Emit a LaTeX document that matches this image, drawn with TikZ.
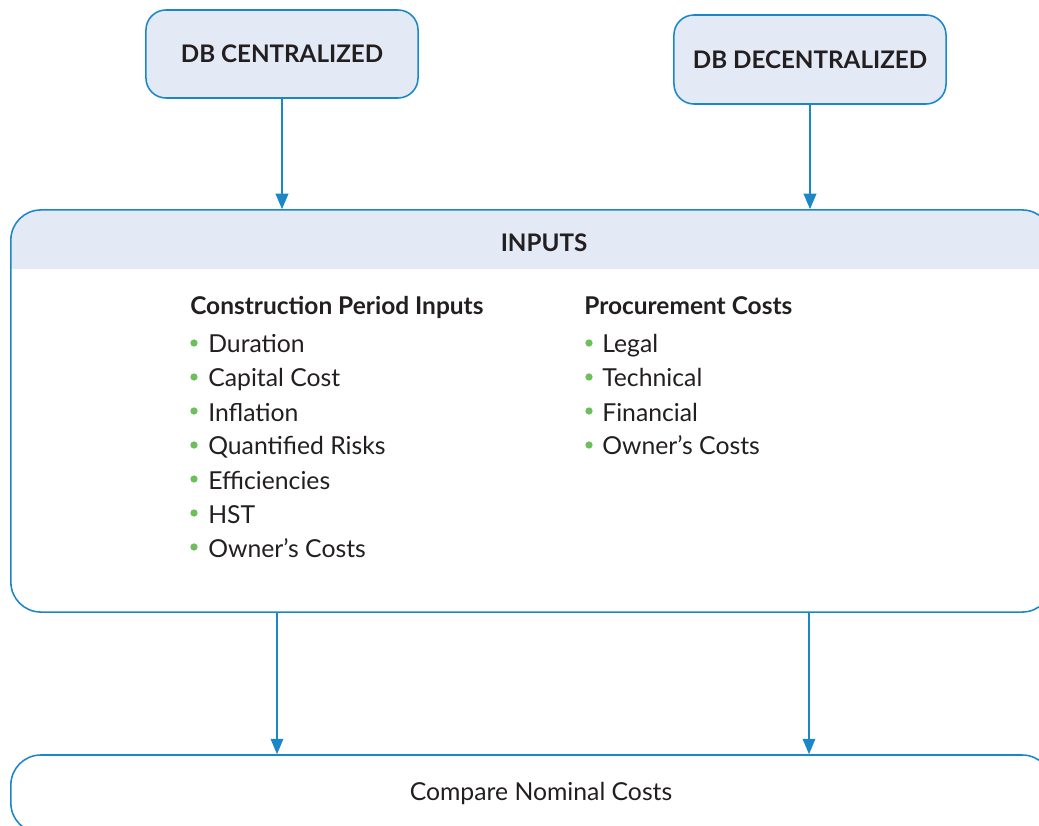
\documentclass[tikz,border=0pt]{standalone}
\usepackage{fontspec}
\setmainfont{Lato}
\usetikzlibrary{arrows.meta,positioning}

\definecolor{flowblue}{HTML}{1B87C9}
\definecolor{boxfill}{HTML}{E3EAF6}
\definecolor{dotgreen}{HTML}{6CBF5B}
\definecolor{textdark}{HTML}{231F20}

\tikzset{
  flowbox/.style={draw=flowblue, line width=1.1pt, fill=boxfill, rounded corners=0.5cm,
    text=textdark, font=\fontsize{17.2}{20}\selectfont\bfseries,
    minimum width=6.8cm, minimum height=2.2cm},
  panel/.style={draw=flowblue, line width=1.1pt, fill=white, rounded corners=0.75cm,
    minimum width=26.025cm, inner sep=0pt},
  flowarrow/.style={draw=flowblue, line width=1.1pt, -{Triangle[length=11pt,width=9pt]}},
  heading/.style={anchor=base west, text=textdark, font=\fontsize{17.4}{20}\selectfont\bfseries, inner sep=0pt},
  entry/.style={anchor=base west, text=textdark, font=\fontsize{17.6}{20}\selectfont, inner sep=0pt},
  bulletdot/.style={fill=dotgreen}
}

\begin{document}
\begin{tikzpicture}[x=0.025cm, y=-0.025cm]

    % --- Frame (pixel grid of the page) ---
    \useasboundingbox (0,0) rectangle (1039,826);
    \clip (0,0) rectangle (1039,826);

    % --- Top boxes ---
    \node[flowbox] (cent) at (282,54) {DB CENTRALIZED};
    \node[flowbox, minimum height=2.225cm] (decent) at (810,59.5) {DB DECENTRALIZED};

    % --- Inputs panel with shaded header band ---
    \node[panel, minimum height=10.05cm,
      path picture={\fill[boxfill, sharp corners] (path picture bounding box.north west)
        rectangle ([yshift=-1.475cm]path picture bounding box.north east);}]
      (inputs) at (531.5,411) {};
    \node[text=textdark, font=\fontsize{17.2}{20}\selectfont\bfseries] (inputstitle) at (544,243) {INPUTS};

    % --- Bottom panel ---
    \node[panel, minimum height=1.95cm] (compare) at (531.5,794) {};
    \node[text=textdark, font=\fontsize{17.6}{20}\selectfont] (comparetext) at (541,794) {Compare Nominal Costs};

    % --- Arrows into the inputs panel ---
    \draw[flowarrow] (cent) -- (cent |- inputs.north);
    \draw[flowarrow] (decent) -- (decent |- inputs.north);

    % --- Arrows into the bottom panel ---
    \coordinate (lowL) at (277,0);
    \coordinate (lowR) at (809,0);
    \draw[flowarrow] (lowL |- inputs.south) -- (lowL |- compare.north);
    \draw[flowarrow] (lowR |- inputs.south) -- (lowR |- compare.north);

    % --- Left column: construction period ---
    \node[heading] (conhead) at (190,315) {Construction Period Inputs};
    \node[entry] (con1) at (208,353) {Duration};
    \node[entry] (con2) at (208,387) {Capital Cost};
    \node[entry] (con3) at (208,421) {Inflation};
    \node[entry] (con4) at (208,455) {Quantified Risks};
    \node[entry] (con5) at (208,489) {Efficiencies};
    \node[entry] (con6) at (208,523) {HST};
    \node[entry] (con7) at (208,557) {Owner’s Costs};
    \fill[bulletdot] (194,343) circle (2.6pt);
    \fill[bulletdot] (194,377) circle (2.6pt);
    \fill[bulletdot] (194,411) circle (2.6pt);
    \fill[bulletdot] (194,445) circle (2.6pt);
    \fill[bulletdot] (194,479) circle (2.6pt);
    \fill[bulletdot] (194,513) circle (2.6pt);
    \fill[bulletdot] (194,547) circle (2.6pt);

    % --- Right column: procurement ---
    \node[heading] (prohead) at (584,315) {Procurement Costs};
    \node[entry] (pro1) at (602,353) {Legal};
    \node[entry] (pro2) at (602,387) {Technical};
    \node[entry] (pro3) at (602,421) {Financial};
    \node[entry] (pro4) at (602,455) {Owner’s Costs};
    \fill[bulletdot] (589,343) circle (2.6pt);
    \fill[bulletdot] (589,377) circle (2.6pt);
    \fill[bulletdot] (589,411) circle (2.6pt);
    \fill[bulletdot] (589,445) circle (2.6pt);

\end{tikzpicture}
\end{document}
